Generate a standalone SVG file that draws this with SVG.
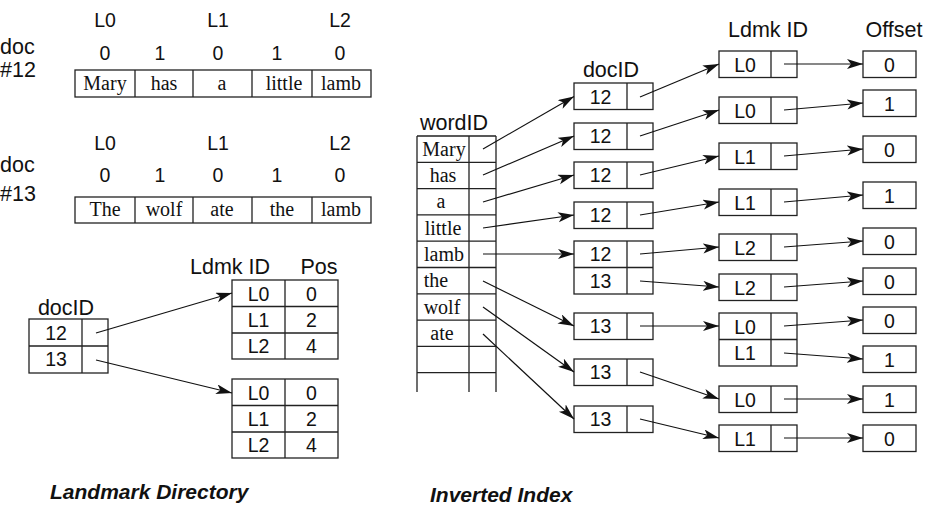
<svg xmlns="http://www.w3.org/2000/svg" width="935" height="506" viewBox="0 0 935 506">
  <defs>
    <marker id="arrow" markerUnits="userSpaceOnUse" markerWidth="18" markerHeight="11" refX="16" refY="5" orient="auto">
      <path d="M0,0 L16,5 L0,10 L4,5 Z" fill="#111"/>
    </marker>
    <style>
      .box { fill: #fff; stroke: #222; stroke-width: 1.3; }
      .ln { fill: none; stroke: #222; stroke-width: 1.3; }
      .sans { font-family: "Liberation Sans", Arial, Helvetica, sans-serif; fill: #111; }
      .serif { font-family: "Liberation Serif", "Times New Roman", serif; font-size: 20px; fill: #111; text-anchor: middle; }
      .lbl { font-size: 19.5px; text-anchor: middle; }
      .doc { font-size: 21.5px; }
      .hdr { font-size: 21.5px; text-anchor: middle; }
      .cell { font-size: 19.5px; text-anchor: middle; }
      .title { font-family: "Liberation Sans", Arial, Helvetica, sans-serif; font-size: 21px; font-weight: bold; font-style: italic; fill: #111; }
      .conn line { stroke: #111; stroke-width: 1.2; marker-end: url(#arrow); }
    </style>
  </defs>
  <rect width="935" height="506" fill="#fff"/>

  <!-- Document #12 with landmark / offset annotations -->
  <g id="doc12">
    <text class="sans doc" x="0" y="54">doc</text>
    <text class="sans doc" x="0" y="77">#12</text>
    <text class="sans lbl" x="105" y="27">L0</text>
    <text class="sans lbl" x="218" y="27">L1</text>
    <text class="sans lbl" x="340" y="27">L2</text>
    <text class="sans lbl" x="105" y="60">0</text>
    <text class="sans lbl" x="160" y="60">1</text>
    <text class="sans lbl" x="218" y="60">0</text>
    <text class="sans lbl" x="277" y="60">1</text>
    <text class="sans lbl" x="340" y="60">0</text>
    <rect class="box" x="75" y="70" width="296" height="27"/>
    <path class="ln" d="M135,70V97M193,70V97M252,70V97M312,70V97"/>
    <text class="serif" x="105" y="90">Mary</text>
    <text class="serif" x="164" y="90">has</text>
    <text class="serif" x="222" y="90">a</text>
    <text class="serif" x="284" y="90">little</text>
    <text class="serif" x="341" y="90">lamb</text>
  </g>

  <!-- Document #13 -->
  <g id="doc13">
    <text class="sans doc" x="0" y="172">doc</text>
    <text class="sans doc" x="0" y="201">#13</text>
    <text class="sans lbl" x="105" y="150">L0</text>
    <text class="sans lbl" x="218" y="150">L1</text>
    <text class="sans lbl" x="340" y="150">L2</text>
    <text class="sans lbl" x="105" y="182">0</text>
    <text class="sans lbl" x="160" y="182">1</text>
    <text class="sans lbl" x="218" y="182">0</text>
    <text class="sans lbl" x="277" y="182">1</text>
    <text class="sans lbl" x="340" y="182">0</text>
    <rect class="box" x="75" y="197" width="296" height="26"/>
    <path class="ln" d="M135,197V223M193,197V223M252,197V223M312,197V223"/>
    <text class="serif" x="105" y="216">The</text>
    <text class="serif" x="164" y="216">wolf</text>
    <text class="serif" x="222" y="216">ate</text>
    <text class="serif" x="282" y="216">the</text>
    <text class="serif" x="341" y="216">lamb</text>
  </g>

  <!-- Landmark directory -->
  <g id="ld-docid">
    <text class="sans hdr" x="66" y="315">docID</text>
    <rect class="box" x="29" y="319" width="79" height="54"/>
    <path class="ln" d="M82,319V373M29,346H108"/>
    <text class="sans cell" x="56" y="340">12</text>
    <text class="sans cell" x="56" y="366">13</text>
  </g>
  <g id="ld-head">
    <text class="sans hdr" x="230" y="274">Ldmk ID</text>
    <text class="sans hdr" x="319" y="274">Pos</text>
  </g>
  <g id="ld-doc12">
    <rect class="box" x="232" y="280" width="106" height="79"/>
    <path class="ln" d="M285,280V359M232,306.5H338M232,333H338"/>
    <text class="sans cell" x="258.5" y="300.5">L0</text>
    <text class="sans cell" x="311.5" y="300.5">0</text>
    <text class="sans cell" x="258.5" y="327">L1</text>
    <text class="sans cell" x="311.5" y="327">2</text>
    <text class="sans cell" x="258.5" y="353">L2</text>
    <text class="sans cell" x="311.5" y="353">4</text>
  </g>
  <g id="ld-doc13">
    <rect class="box" x="232" y="379" width="106" height="79"/>
    <path class="ln" d="M285,379V458M232,405.5H338M232,432H338"/>
    <text class="sans cell" x="258.5" y="399.5">L0</text>
    <text class="sans cell" x="311.5" y="399.5">0</text>
    <text class="sans cell" x="258.5" y="426">L1</text>
    <text class="sans cell" x="311.5" y="426">2</text>
    <text class="sans cell" x="258.5" y="452">L2</text>
    <text class="sans cell" x="311.5" y="452">4</text>
  </g>

  <!-- Inverted index: word table -->
  <g id="ii-wordid">
    <text class="sans hdr" x="454" y="130">wordID</text>
    <path class="ln" d="M417,136H496M417,136V392M469,136V392M496,136V392
      M417,162.3H496M417,188.6H496M417,214.9H496M417,241.2H496M417,267.5H496
      M417,293.8H496M417,320.1H496M417,346.4H496M417,372.7H496"/>
    <text class="serif" x="444" y="156">Mary</text>
    <text class="serif" x="443" y="182">has</text>
    <text class="serif" x="441" y="208">a</text>
    <text class="serif" x="443" y="235">little</text>
    <text class="serif" x="444" y="261">lamb</text>
    <text class="serif" x="436" y="287">the</text>
    <text class="serif" x="442" y="314">wolf</text>
    <text class="serif" x="442" y="340">ate</text>
  </g>

  <!-- Inverted index: document postings -->
  <g id="ii-docid">
    <text class="sans hdr" x="611" y="77">docID</text>
    <rect class="box" x="574" y="83" width="79" height="26.5"/>
    <rect class="box" x="574" y="123" width="79" height="26.5"/>
    <rect class="box" x="574" y="162" width="79" height="26.5"/>
    <rect class="box" x="574" y="202" width="79" height="26.5"/>
    <rect class="box" x="574" y="241" width="79" height="53"/>
    <rect class="box" x="574" y="313" width="79" height="26.5"/>
    <rect class="box" x="574" y="359" width="79" height="26.5"/>
    <rect class="box" x="574" y="406" width="79" height="26.5"/>
    <path class="ln" d="M627,83V109.5M627,123V149.5M627,162V188.5M627,202V228.5M627,241V294M574,267.5H653M627,313V339.5M627,359V385.5M627,406V432.5"/>
    <text class="sans cell" x="600.5" y="103.5">12</text>
    <text class="sans cell" x="600.5" y="143">12</text>
    <text class="sans cell" x="600.5" y="182">12</text>
    <text class="sans cell" x="600.5" y="222">12</text>
    <text class="sans cell" x="600.5" y="261">12</text>
    <text class="sans cell" x="600.5" y="287.5">13</text>
    <text class="sans cell" x="600.5" y="333">13</text>
    <text class="sans cell" x="600.5" y="379">13</text>
    <text class="sans cell" x="600.5" y="426">13</text>
  </g>

  <!-- Inverted index: landmark postings -->
  <g id="ii-ldmk">
    <text class="sans hdr" x="768" y="37">Ldmk ID</text>
    <rect class="box" x="719" y="51" width="78" height="26.5"/>
    <rect class="box" x="719" y="97" width="78" height="26.5"/>
    <rect class="box" x="719" y="143" width="78" height="26.5"/>
    <rect class="box" x="719" y="189" width="78" height="26.5"/>
    <rect class="box" x="719" y="234" width="78" height="26.5"/>
    <rect class="box" x="719" y="274" width="78" height="26.5"/>
    <rect class="box" x="719" y="313" width="78" height="53"/>
    <rect class="box" x="719" y="386" width="78" height="26.5"/>
    <rect class="box" x="719" y="425" width="78" height="26.5"/>
    <path class="ln" d="M771,51V77.5M771,97V123.5M771,143V169.5M771,189V215.5M771,234V260.5M771,274V300.5M771,313V366M719,339.5H797M771,386V412.5M771,425V451.5"/>
    <text class="sans cell" x="745" y="71.5">L0</text>
    <text class="sans cell" x="745" y="117.5">L0</text>
    <text class="sans cell" x="745" y="163.5">L1</text>
    <text class="sans cell" x="745" y="209.5">L1</text>
    <text class="sans cell" x="745" y="254.5">L2</text>
    <text class="sans cell" x="745" y="294.5">L2</text>
    <text class="sans cell" x="745" y="333.5">L0</text>
    <text class="sans cell" x="745" y="359.5">L1</text>
    <text class="sans cell" x="745" y="406.5">L0</text>
    <text class="sans cell" x="745" y="445.5">L1</text>
  </g>

  <!-- Inverted index: offsets -->
  <g id="ii-offset">
    <text class="sans hdr" x="894" y="37">Offset</text>
    <rect class="box" x="863" y="51" width="53" height="26.5"/>
    <rect class="box" x="863" y="90" width="53" height="26.5"/>
    <rect class="box" x="863" y="136" width="53" height="26.5"/>
    <rect class="box" x="863" y="182" width="53" height="26.5"/>
    <rect class="box" x="863" y="228" width="53" height="26.5"/>
    <rect class="box" x="863" y="268" width="53" height="26.5"/>
    <rect class="box" x="863" y="307" width="53" height="26.5"/>
    <rect class="box" x="863" y="346" width="53" height="26.5"/>
    <rect class="box" x="863" y="386" width="53" height="26.5"/>
    <rect class="box" x="863" y="425" width="53" height="26.5"/>
    <text class="sans cell" x="889.5" y="71.5">0</text>
    <text class="sans cell" x="889.5" y="110.5">1</text>
    <text class="sans cell" x="889.5" y="156.5">0</text>
    <text class="sans cell" x="889.5" y="202.5">1</text>
    <text class="sans cell" x="889.5" y="248.5">0</text>
    <text class="sans cell" x="889.5" y="288.5">0</text>
    <text class="sans cell" x="889.5" y="327.5">0</text>
    <text class="sans cell" x="889.5" y="366.5">1</text>
    <text class="sans cell" x="889.5" y="406.5">1</text>
    <text class="sans cell" x="889.5" y="445.5">0</text>
  </g>

  <!-- Connectors -->
  <g id="connectors" class="conn">
    <line x1="96" y1="333" x2="232" y2="293"/>
    <line x1="96" y1="360" x2="232" y2="393"/>

    <line x1="483" y1="149" x2="574" y2="96.5"/>
    <line x1="483" y1="175" x2="574" y2="136"/>
    <line x1="483" y1="202" x2="574" y2="175"/>
    <line x1="483" y1="228" x2="574" y2="215"/>
    <line x1="483" y1="254" x2="574" y2="254"/>
    <line x1="483" y1="281" x2="574" y2="326"/>
    <line x1="483" y1="307" x2="574" y2="372"/>
    <line x1="483" y1="334" x2="574" y2="419"/>

    <line x1="640" y1="97" x2="719" y2="64"/>
    <line x1="640" y1="136" x2="719" y2="110"/>
    <line x1="640" y1="175" x2="719" y2="156"/>
    <line x1="640" y1="215" x2="719" y2="202"/>
    <line x1="640" y1="254" x2="719" y2="247"/>
    <line x1="640" y1="281" x2="719" y2="287"/>
    <line x1="640" y1="326" x2="719" y2="326"/>
    <line x1="640" y1="372" x2="719" y2="399"/>
    <line x1="640" y1="419" x2="719" y2="438"/>

    <line x1="784" y1="64" x2="863" y2="64"/>
    <line x1="784" y1="110" x2="863" y2="103"/>
    <line x1="784" y1="156" x2="863" y2="149"/>
    <line x1="784" y1="202" x2="863" y2="195"/>
    <line x1="784" y1="247" x2="863" y2="241"/>
    <line x1="784" y1="287" x2="863" y2="281"/>
    <line x1="784" y1="326" x2="863" y2="320"/>
    <line x1="784" y1="353" x2="863" y2="359"/>
    <line x1="784" y1="399" x2="863" y2="399"/>
    <line x1="784" y1="438" x2="863" y2="438"/>
  </g>

  <text class="title" x="50" y="499">Landmark Directory</text>
  <text class="title" x="430" y="502">Inverted Index</text>
</svg>
